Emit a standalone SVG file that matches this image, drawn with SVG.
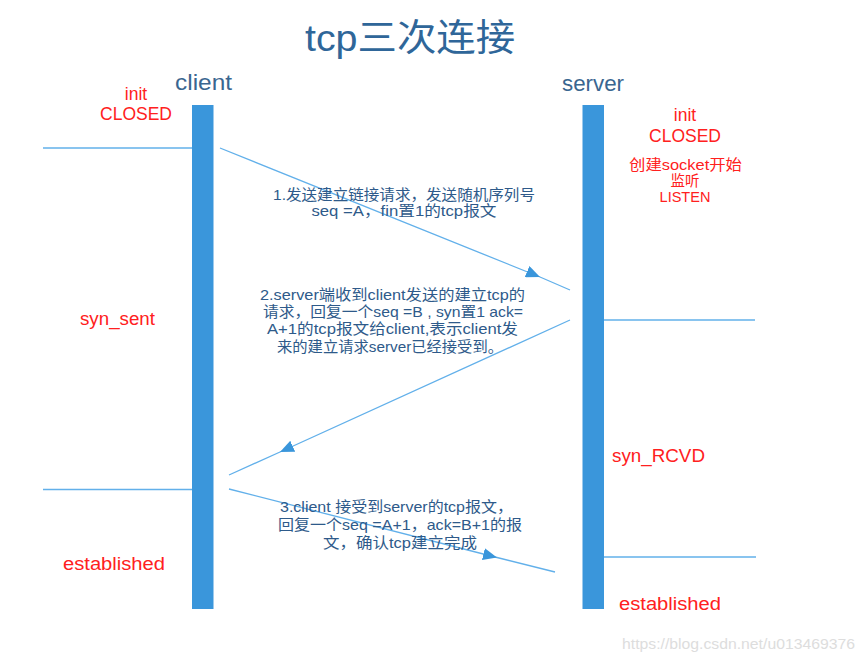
<svg xmlns="http://www.w3.org/2000/svg" width="865" height="662" viewBox="0 0 865 662">
<style>
text{font-family:"Liberation Sans","Noto Sans CJK SC",sans-serif}
.title{font-size:37px;fill:#2f6699;text-anchor:middle}
.actor{font-size:22px;fill:#3a6690}
.state{font-size:17.5px;fill:#ff2020;text-anchor:middle}
.small{font-size:14.5px;fill:#ff2020;text-anchor:middle}
.msg{font-size:15px;fill:#2e5a8a;text-anchor:middle}
.bar{fill:#3a96db}
.hl{stroke:#62b0ea;stroke-width:1.3;fill:none}
.arr{stroke:#62b0ea;stroke-width:1.3;fill:none;marker-mid:url(#ah)}
.wm{font-size:14.5px;fill:#dddddd}
</style>
<defs>
<marker id="ah" markerUnits="userSpaceOnUse" markerWidth="14" markerHeight="12" refX="14" refY="6" orient="auto">
<path d="M0,0 L14,6 L0,12 z" fill="#3a96db"/>
</marker>
</defs>
<rect width="865" height="662" fill="#ffffff"/>
<text class="title" x="410" y="51" textLength="210" lengthAdjust="spacingAndGlyphs">tcp三次连接</text>

<g id="client">
<rect class="bar" x="192" y="105" width="21.5" height="504"/>
<text class="actor" x="175" y="90" textLength="57" lengthAdjust="spacingAndGlyphs">client</text>
</g>
<g id="server">
<rect class="bar" x="582.5" y="105" width="21.5" height="504"/>
<text class="actor" x="562" y="91" textLength="62" lengthAdjust="spacingAndGlyphs">server</text>
</g>

<g id="client-states">
<text class="state" x="136" y="100">init</text>
<text class="state" x="136" y="120">CLOSED</text>
<text class="state" x="117.5" y="325" textLength="75" lengthAdjust="spacingAndGlyphs">syn_sent</text>
<text class="state" x="114" y="570" textLength="102" lengthAdjust="spacingAndGlyphs">established</text>
</g>
<g id="server-states">
<text class="state" x="685" y="121">init</text>
<text class="state" x="685" y="142">CLOSED</text>
<text class="small" x="685.5" y="170" textLength="113" lengthAdjust="spacingAndGlyphs">创建socket开始</text>
<text class="small" x="685" y="186">监听</text>
<text class="small" x="685" y="202">LISTEN</text>
<text class="state" x="658.5" y="462" textLength="93" lengthAdjust="spacingAndGlyphs">syn_RCVD</text>
<text class="state" x="670" y="610" textLength="102" lengthAdjust="spacingAndGlyphs">established</text>
</g>

<g id="connectors">
<path class="hl" d="M43,148 H192"/>
<path class="hl" d="M604,320 H755"/>
<path class="hl" d="M43,489.5 H192"/>
<path class="hl" d="M604,557 H756"/>
<path class="arr" d="M220,148 L540,277 L570,290"/>
<path class="arr" d="M570,320 L280,452 L229,475"/>
<path class="arr" d="M229,489 L497,557.5 L555,572"/>
</g>

<g id="msg1">
<text class="msg" x="404" y="200" textLength="262" lengthAdjust="spacingAndGlyphs">1.发送建立链接请求，发送随机序列号</text>
<text class="msg" x="404" y="216" textLength="185" lengthAdjust="spacingAndGlyphs">seq =A，fin置1的tcp报文</text>
</g>
<g id="msg2">
<text class="msg" x="392.5" y="300" textLength="265" lengthAdjust="spacingAndGlyphs">2.server端收到client发送的建立tcp的</text>
<text class="msg" x="393" y="317" textLength="260" lengthAdjust="spacingAndGlyphs">请求，回复一个seq =B , syn置1 ack=</text>
<text class="msg" x="392.5" y="334" textLength="251" lengthAdjust="spacingAndGlyphs">A+1的tcp报文给client,表示client发</text>
<text class="msg" x="390" y="352" textLength="226" lengthAdjust="spacingAndGlyphs">来的建立请求server已经接受到。</text>
</g>
<g id="msg3">
<text class="msg" x="396.5" y="512" textLength="233" lengthAdjust="spacingAndGlyphs">3.client 接受到server的tcp报文，</text>
<text class="msg" x="400" y="530" textLength="244" lengthAdjust="spacingAndGlyphs">回复一个seq =A+1，ack=B+1的报</text>
<text class="msg" x="400" y="548" textLength="154" lengthAdjust="spacingAndGlyphs">文，确认tcp建立完成</text>
</g>

<text class="wm" x="622" y="649" textLength="233" lengthAdjust="spacingAndGlyphs">https://blog.csdn.net/u013469376</text>
</svg>
